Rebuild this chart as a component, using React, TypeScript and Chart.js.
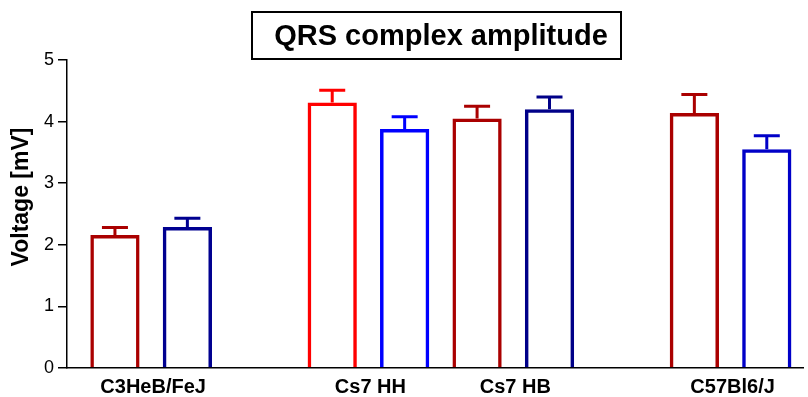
import React, { useEffect, useRef } from "react";
import { Chart, registerables } from "chart.js";

Chart.register(...registerables);

// Strain groups along the x axis
const groups = ["C3HeB/FeJ", "Cs7 HH", "Cs7 HB", "C57Bl6/J"];
// First x slot of each group; each group fills two adjacent slots
const groupSlots = [0, 3, 5, 8];

// QRS amplitude (mV), mean and upper error (SEM)
const redMeans = [2.16, 4.31, 4.05, 4.14];
const redErrors = [0.12, 0.2, 0.2, 0.3];
const blueMeans = [2.29, 3.88, 4.2, 3.55];
const blueErrors = [0.14, 0.2, 0.2, 0.22];

const yTicks = [0, 1, 2, 3, 4, 5];

const redColors = ["#aa0000", "#ff0000", "#aa0000", "#aa0000"];
const blueColors = ["#000090", "#0000ff", "#000088", "#0000c8"];

const FONT = "'Liberation Sans', Arial, Helvetica, sans-serif";

const errorBarPlugin = {
  id: "errorBars",
  afterDatasetsDraw(chart: any) {
    const { ctx } = chart;
    const yScale = chart.scales.y;
    chart.data.datasets.forEach((ds: any, di: number) => {
      const meta = chart.getDatasetMeta(di);
      meta.data.forEach((el: any, i: number) => {
        const v = ds.data[i].y;
        const e = ds.errors[i];
        const color = ds.borderColor[i];
        const yTop = yScale.getPixelForValue(v);
        const yCap = yScale.getPixelForValue(v + e);
        ctx.save();
        ctx.strokeStyle = color;
        ctx.lineWidth = 3;
        ctx.beginPath();
        ctx.moveTo(el.x, yTop);
        ctx.lineTo(el.x, yCap);
        ctx.moveTo(el.x - 13, yCap);
        ctx.lineTo(el.x + 13, yCap);
        ctx.stroke();
        ctx.restore();
      });
    });
  },
};

const labelsPlugin = {
  id: "labels",
  afterDraw(chart: any) {
    const { ctx, chartArea } = chart;
    ctx.save();
    // boxed title
    ctx.strokeStyle = "#000";
    ctx.lineWidth = 2;
    ctx.strokeRect(252, 12, 369, 47);
    ctx.fillStyle = "#000";
    ctx.font = `bold 29px ${FONT}`;
    ctx.textAlign = "center";
    ctx.textBaseline = "middle";
    ctx.fillText("QRS complex amplitude", 441, 37);

    // y axis title
    ctx.save();
    ctx.translate(22, 197);
    ctx.rotate(-Math.PI / 2);
    ctx.font = `bold 23px ${FONT}`;
    ctx.fillText("Voltage [mV]", 0, 0);
    ctx.restore();

    // group labels centred under each pair of bars
    const red = chart.getDatasetMeta(0).data;
    const blue = chart.getDatasetMeta(1).data;
    ctx.font = `bold 20px ${FONT}`;
    groups.forEach((g, i) => {
      const x = (red[i].x + blue[i].x) / 2 + 2;
      ctx.fillText(g, x, chartArea.bottom + 19);
    });
    ctx.restore();
  },
};

export default function App() {
  const ref = useRef<HTMLCanvasElement | null>(null);

  useEffect(() => {
    if (!ref.current) return;
    const chart = new Chart(ref.current, {
      type: "bar",
      data: {
        datasets: [
          {
            label: "red",
            data: groupSlots.map((s, i) => ({ x: s, y: redMeans[i] })),
            errors: redErrors,
            borderColor: redColors,
            backgroundColor: "rgba(0,0,0,0)",
            borderWidth: 3.5,
            grouped: false,
          } as any,
          {
            label: "blue",
            data: groupSlots.map((s, i) => ({ x: s + 1, y: blueMeans[i] })),
            errors: blueErrors,
            borderColor: blueColors,
            backgroundColor: "rgba(0,0,0,0)",
            borderWidth: 3.5,
            grouped: false,
          } as any,
        ],
      },
      options: {
        responsive: false,
        animation: false,
        events: [],
        layout: { padding: { top: 60, bottom: 29, right: 5, left: 0 } },
        datasets: { bar: { categoryPercentage: 1, barPercentage: 0.68 } },
        plugins: {
          legend: { display: false },
          tooltip: { enabled: false },
          title: { display: false },
        },
        scales: {
          x: {
            type: "linear",
            min: -0.662,
            max: 9.5,
            offset: false,
            ticks: { display: false },
            grid: { display: false, drawTicks: false },
            border: { display: true, color: "#000", width: 1.5 },
          },
          y: {
            min: 0,
            max: 5,
            afterFit(scale: any) {
              scale.width = 67;
            },
            afterBuildTicks(scale: any) {
              scale.ticks = yTicks.map((v) => ({ value: v }));
            },
            ticks: {
              color: "#000",
              padding: 4,
              font: { family: FONT, size: 18 },
            },
            grid: {
              drawOnChartArea: false,
              drawTicks: true,
              tickLength: 9,
              color: "#000",
              lineWidth: 1.5,
            },
            border: { display: true, color: "#000", width: 1.5 },
          },
        },
      },
      plugins: [errorBarPlugin, labelsPlugin],
    } as any);
    return () => chart.destroy();
  }, []);

  return (
    <div style={{ position: "fixed", left: 0, top: 0, width: 808, height: 397, background: "#fff" }}>
      <canvas ref={ref} width={808} height={397} style={{ width: 808, height: 397, display: "block" }} />
    </div>
  );
}
